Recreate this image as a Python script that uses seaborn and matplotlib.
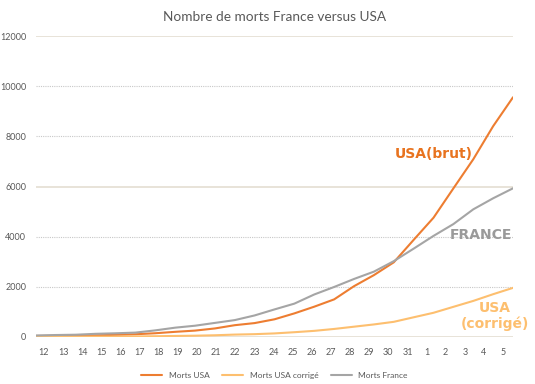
import numpy as np
import pandas as pd
import matplotlib
matplotlib.use('Agg')
import matplotlib.pyplot as plt
import seaborn as sns

# Données (12 mars -> 5 avril)
jours = ['12', '13', '14', '15', '16', '17', '18', '19', '20', '21', '22', '23',
         '24', '25', '26', '27', '28', '29', '30', '31', '1', '2', '3', '4', '5']
morts_usa = [41, 48, 57, 68, 86, 109, 150, 206, 255, 341, 471, 555, 706, 942,
             1209, 1500, 2026, 2467, 2978, 3873, 4757, 5926, 7087, 8407, 9560]
morts_usa_corrige = [8, 10, 12, 14, 17, 22, 30, 42, 52, 69, 96, 113, 143, 191,
                     245, 321, 411, 501, 605, 786, 966, 1203, 1439, 1707, 1960]
morts_france = [61, 79, 91, 127, 148, 175, 264, 372, 450, 562, 674, 860, 1100,
                1331, 1696, 1995, 2314, 2606, 3024, 3523, 4032, 4503, 5091,
                5532, 5930]

series = ['Morts USA', 'Morts USA corrigé', 'Morts France']
couleurs = {'Morts USA': '#ED7D31', 'Morts USA corrigé': '#FDBF6F',
            'Morts France': '#A5A5A5'}

df = pd.DataFrame({'pos': range(len(jours)),
                   'Morts USA': morts_usa,
                   'Morts USA corrigé': morts_usa_corrige,
                   'Morts France': morts_france})
df_long = df.melt(id_vars='pos', var_name='serie', value_name='morts')

sns.set_theme(style="white")
plt.rcParams['font.family'] = ['Lato', 'DejaVu Sans']

fig = plt.figure(figsize=(5.35, 3.84), dpi=100)
ax = fig.add_axes([0.0673, 0.1224, 0.8916, 0.7836])

# Grille façon Excel
for v in [2000, 4000, 8000, 10000]:
    ax.axhline(v, color='#C8C8C8', lw=0.8, ls=(0, (1, 1)), zorder=0)
for v in [0, 6000, 12000]:
    ax.axhline(v, color='#E6E1D6', lw=1.3, zorder=0)

sns.lineplot(data=df_long, x='pos', y='morts', hue='serie', hue_order=series,
             palette=couleurs, linewidth=1.5, ax=ax, zorder=3)

ax.set_xlim(0, len(jours) - 1)
ax.set_ylim(0, 12000)
ax.set_yticks(range(0, 12001, 2000))
ax.set_yticklabels([str(v) for v in range(0, 12001, 2000)], fontsize=6.5,
                   color='#595959')
ax.set_xticks(np.linspace(0.4, 23.5, len(jours)))
ax.set_xticklabels(jours, fontsize=6.5, color='#595959')
ax.tick_params(axis='y', length=0, pad=7)
ax.tick_params(axis='x', length=0, pad=8)
ax.set_xlabel('')
ax.set_ylabel('')
for s in ax.spines.values():
    s.set_visible(False)

ax.set_title('Nombre de morts France versus USA', fontsize=9.8, color='#595959',
             pad=11)

# Étiquettes des courbes
ax.text(20.0, 7300, 'USA(brut)', color='#E8731F', fontsize=10,
        fontweight='bold', family='DejaVu Sans', ha='center', va='center')
ax.text(22.4, 4050, 'FRANCE', color='#9A9A9A', fontsize=10,
        fontweight='bold', family='DejaVu Sans', ha='center', va='center')
ax.text(23.1, 830, 'USA\n(corrigé)', color='#FDBF6F', fontsize=10,
        fontweight='bold', family='DejaVu Sans', ha='center', va='center',
        linespacing=1.1, clip_on=False)

ax.legend(loc='upper center', bbox_to_anchor=(0.5, -0.09), ncol=3,
          frameon=False, fontsize=6, handlelength=2.5, columnspacing=1.5,
          labelcolor='#595959')

fig.savefig('out.png', dpi=100)
